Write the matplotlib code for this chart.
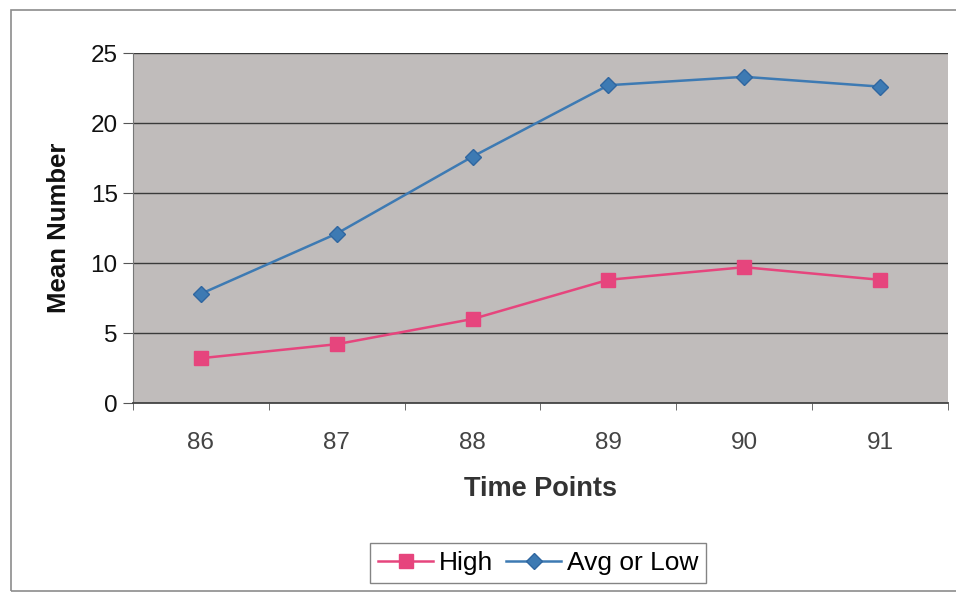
import matplotlib.pyplot as plt
from matplotlib.patches import Rectangle

plt.rcParams['font.family'] = ['Liberation Sans', 'DejaVu Sans']

# data
time_points = ['86', '87', '88', '89', '90', '91']
high = [3.2, 4.2, 6.0, 8.8, 9.7, 8.8]
avg_or_low = [7.8, 12.1, 17.6, 22.7, 23.3, 22.6]
y_ticks = [0, 5, 10, 15, 20, 25]

fig = plt.figure(figsize=(9.56, 5.93), dpi=100)
ax = fig.add_axes([0.1391, 0.3204, 0.8525, 0.5902])

# outer chart border
fig.patches.append(Rectangle((11 / 956, 2 / 593), 950 / 956, 581 / 593,
                             transform=fig.transFigure, fill=False,
                             edgecolor='#8c8c8c', linewidth=1.2))

x = list(range(1, len(time_points) + 1))
ax.set_facecolor('#c0bcbb')
ax.plot(x, high, color='#e6457d', lw=1.8, marker='s', ms=10,
        markeredgecolor='#e6457d', label='High')
ax.plot(x, avg_or_low, color='#3d7ab3', lw=1.8, marker='D', ms=8,
        markeredgecolor='#2f66a0', label='Avg or Low')

ax.set_xlim(0.5, len(time_points) + 0.5)
ax.set_ylim(0, 25)
ax.set_yticks(y_ticks)
ax.set_yticklabels([str(v) for v in y_ticks], fontsize=17.5, color='#111111')
ax.set_xticks(x)
ax.set_xticklabels(time_points, fontsize=17.5, color='#444444')
ax.set_xticks([i + 0.5 for i in range(len(time_points) + 1)], minor=True)
ax.tick_params(axis='x', which='major', length=0, pad=21)
ax.tick_params(axis='x', which='minor', length=5, color='#555555')
ax.tick_params(axis='y', length=7, color='#555555', pad=4)

ax.grid(axis='y', color='#3a3a3a', lw=1.0)
ax.set_axisbelow(True)
for side in ['top', 'right']:
    ax.spines[side].set_visible(False)
ax.spines['left'].set_color('#777777')
ax.spines['bottom'].set_color('#444444')
ax.spines['bottom'].set_linewidth(1.3)

ax.set_xlabel('Time Points', fontsize=19.5, fontweight='bold', color='#333333', labelpad=16)
ax.set_ylabel('Mean Number', fontsize=18.5, fontweight='bold', color='#111111', labelpad=14)

leg = fig.legend(loc='center', bbox_to_anchor=(538 / 956, 1 - 563 / 593), ncol=2,
                 fontsize=19, frameon=True, fancybox=False, handlelength=2.1,
                 handletextpad=0.2, columnspacing=0.5, borderpad=0.3)
leg.get_frame().set_edgecolor('#666666')
leg.get_frame().set_linewidth(1.0)

fig.savefig('out.png', dpi=100)
